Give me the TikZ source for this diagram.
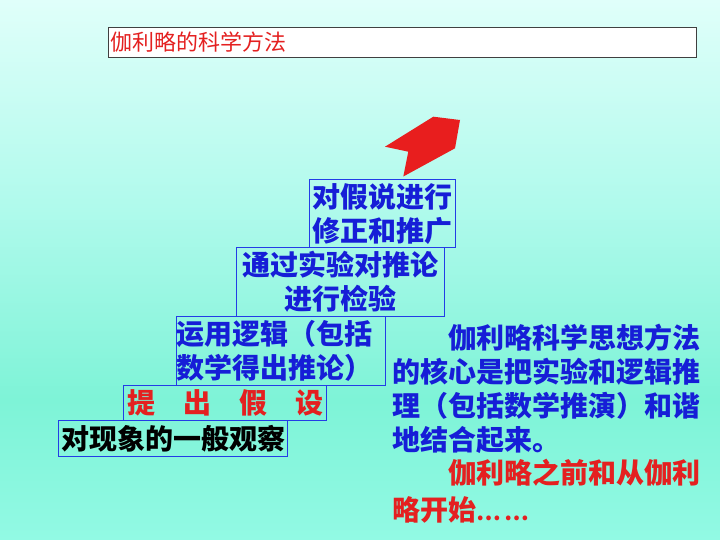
\documentclass[tikz,border=0pt]{standalone}
\usepackage{fontspec}
\setmainfont{Noto Sans CJK SC}
\definecolor{bgA}{RGB}{224,255,250}
\definecolor{bgB}{RGB}{176,250,236}
\definecolor{bgC}{RGB}{126,243,215}
\definecolor{bgD}{RGB}{146,250,228}
\definecolor{txtblue}{RGB}{22,30,215}
\definecolor{boxblue}{RGB}{35,60,230}
\definecolor{txtred}{RGB}{228,32,32}
\definecolor{arrowred}{RGB}{232,30,30}
\pgfdeclareverticalshading{slidebg}{100bp}{color(0bp)=(bgD); color(25bp)=(bgD); color(38bp)=(bgC); color(56bp)=(bgB); color(75bp)=(bgA); color(100bp)=(bgA)}
\tikzset{
  stepbox/.style={draw=boxblue, line width=1.4pt, inner sep=0pt, anchor=north west,
    text=txtblue, font=\fontsize{28}{34}\selectfont\bfseries},
  paratext/.style={inner sep=0pt, anchor=north west, align=left,
    font=\fontsize{28}{34}\selectfont\bfseries},
}
\begin{document}
\begin{tikzpicture}[x=1pt,y=-1pt]
\useasboundingbox (0,0) rectangle (720,540);
\shade[shading=slidebg] (0,0) rectangle (720,540);
% title
\node[draw=black!75, line width=0.8pt, fill=white, anchor=north west, minimum height=30pt,
  inner xsep=2pt, inner ysep=0pt, text width=584pt, align=left, text=txtred,
  font=\fontsize{22}{24}\selectfont] (title) at (108,27) {伽利略的科学方法};
% arrow
\fill[arrowred] (433.3,116.7) -- (460,120) -- (455,148.3) -- (403.3,176.5) -- (408.3,151.7) -- (385,146.7) -- cycle;
% steps
\node[stepbox, minimum width=146pt, minimum height=68pt, align=center] (b1) at (309,179) {对假说进行\\修正和推广};
\node[stepbox, minimum width=208pt, minimum height=69pt, align=center] (b2) at (236,247) {通过实验对推论\\进行检验};
\node[stepbox, text width=209pt, minimum height=69pt, align=left] (b3) at (176,316) {运用逻辑（包括\\数学得出推论）};
\node[stepbox, minimum width=203pt, minimum height=35pt, text=txtred] (b4) at (123,385) {提　出　假　设};
\node[stepbox, minimum width=229pt, minimum height=36pt, text=black] (b5) at (58,420) {对现象的一般观察};
% paragraph
\node[paratext, text=txtblue] (p1) at (392,324) {\hspace*{2em}伽利略科学思想方法\\的核心是把实验和逻辑推\\理（包括数学推演）和谐\\地结合起来。};
\node[paratext, text=txtred, font=\fontsize{28}{37}\selectfont\bfseries] (p2) at (392,459) {\hspace*{2em}伽利略之前和从伽利\\略开始{\fontsize{22}{37}\selectfont …\,…}};
\end{tikzpicture}
\end{document}
